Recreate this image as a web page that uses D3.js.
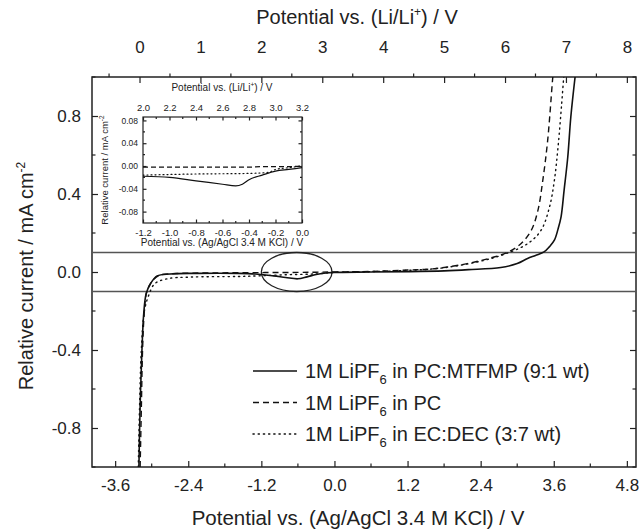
<!DOCTYPE html>
<html>
<head>
<meta charset="utf-8">
<script src="https://cdn.jsdelivr.net/npm/d3@7"></script>
<style>
  body { margin: 0; background: #fff; }
  svg text { font-family: "Liberation Sans", Arial, sans-serif; fill: #222; }
</style>
</head>
<body>
<main></main>
<script>
// main plot data: potential vs Ag/AgCl (V), relative current (mA cm-2)
const solidPts = [[-3.21,-1.0],[-3.19,-0.69],[-3.16,-0.40],[-3.13,-0.21],[-3.09,-0.11],[-3.02,-0.06],[-2.91,-0.02],[-2.70,-0.01],[-2.26,-0.007],[-1.6,-0.007],[-1.3,-0.01],[-1.0,-0.02],[-0.8,-0.028],[-0.6,-0.035],[-0.45,-0.025],[-0.3,-0.013],[-0.1,-0.004],[0.0,-0.002],[0.6,0.0],[1.2,0.002],[1.8,0.006],[2.2,0.012],[2.73,0.023],[3.0,0.043],[3.17,0.069],[3.3,0.085],[3.44,0.103],[3.53,0.13],[3.61,0.163],[3.67,0.22],[3.72,0.283],[3.77,0.42],[3.83,0.59],[3.88,0.795],[3.95,1.0]]
const dashedPts = [[-3.19,-1.0],[-3.17,-0.7],[-3.15,-0.4],[-3.12,-0.2],[-3.08,-0.1],[-3.0,-0.05],[-2.88,-0.018],[-2.6,-0.008],[-2.0,-0.005],[-1.2,-0.003],[-0.6,-0.002],[-0.3,-0.001],[0.0,0.0],[0.6,0.003],[1.2,0.01],[1.64,0.017],[2.18,0.043],[2.62,0.077],[2.84,0.10],[3.06,0.145],[3.23,0.213],[3.34,0.316],[3.42,0.47],[3.5,0.675],[3.58,0.985],[3.585,1.0]]
const dottedPts = [[-3.22,-1.0],[-3.2,-0.7],[-3.17,-0.4],[-3.12,-0.2],[-3.05,-0.12],[-2.95,-0.06],[-2.75,-0.035],[-2.37,-0.026],[-1.6,-0.023],[-1.27,-0.02],[-0.8,-0.014],[-0.4,-0.011],[-0.25,-0.009],[-0.1,-0.004],[0.0,-0.002],[0.6,0.002],[1.2,0.008],[1.8,0.022],[2.46,0.06],[2.84,0.097],[3.17,0.145],[3.39,0.213],[3.53,0.333],[3.61,0.47],[3.67,0.64],[3.73,0.863],[3.76,0.985],[3.765,1.0]]

// inset data (zoom of -1.2 .. 0 V)
const insetSolid = [[-1.2,-0.018],[-1.0,-0.02],[-0.8,-0.026],[-0.6,-0.032],[-0.5,-0.035],[-0.45,-0.032],[-0.4,-0.024],[-0.3,-0.016],[-0.2,-0.009],[-0.1,-0.006],[0.0,-0.003]]
const insetDashed = [[-1.2,-0.002],[-0.8,-0.002],[-0.4,-0.002],[-0.3,-0.001],[-0.1,-0.001],[0.0,0.0]]
const insetDotted = [[-1.2,-0.016],[-0.8,-0.014],[-0.4,-0.013],[-0.25,-0.011],[-0.2,-0.006],[-0.1,-0.003],[0.0,0.0]]

const xTicks = [-3.6,-2.4,-1.2,0.0,1.2,2.4,3.6,4.8]
const liTicks = [0,1,2,3,4,5,6,7,8]
const yTicks = [-0.8,-0.4,0.0,0.4,0.8]
const insetXTicks = [-1.2,-1.0,-0.8,-0.6,-0.4,-0.2,0.0]
const insetLiTicks = [2.0,2.2,2.4,2.6,2.8,3.0,3.2]
const insetYTicks = [-0.08,-0.04,0.0,0.04,0.08]
const refLines = [0.1,-0.1]
const legendNames = ['in PC:MTFMP (9:1 wt)','in PC','in EC:DEC (3:7 wt)']
const liOffset = 3.2 // Li/Li+ = Ag/AgCl + 3.2

const size = {width: 640, height: 530}
const box = {left: 92, right: 636, top: 77, bottom: 467}
const inBox = {left: 143, right: 302, top: 117, bottom: 223}
const styles = [null, '6,4', '1.2,4']
const tickFont = 17
const titleFont = 20

const svg = d3.select('main').append('svg')
    .attr('width', size.width).attr('height', size.height)

const x = d3.scaleLinear().domain([-3.98, 4.95]).range([box.left, box.right])
const xLi = d3.scaleLinear().domain([-3.98 + liOffset, 4.95 + liOffset]).range([box.left, box.right])
const y = d3.scaleLinear().domain([-1, 1]).range([box.bottom, box.top])

const ix = d3.scaleLinear().domain([-1.2, 0.0]).range([inBox.left, inBox.right])
const ixLi = d3.scaleLinear().domain([2.0, 3.2]).range([inBox.left, inBox.right])
const iy = d3.scaleLinear().domain([-0.1, 0.086]).range([inBox.bottom, inBox.top])

const ticks = (g, axis, scale, major, minor, len, minorLen) => {
    const a = axis(scale).tickValues(major).tickSizeInner(len).tickSizeOuter(0)
    g.call(a)
    g.select('.domain').remove()
    g.selectAll('.tick line').attr('stroke', '#222').attr('stroke-width', 1.2)
    minor.forEach(v => {
        const p = scale(v)
        const horizontal = axis === d3.axisTop || axis === d3.axisBottom
        g.append('line')
            .attr('x1', horizontal ? p : 0).attr('x2', horizontal ? p : 0)
            .attr('y1', horizontal ? 0 : p).attr('y2', horizontal ? 0 : p)
            .attr(horizontal ? 'y2' : 'x2', minorLen)
            .attr('stroke', '#222').attr('stroke-width', 1.2)
    })
}

// ---- main axes (ticks point inward) ----
const clip = svg.append('clipPath').attr('id', 'mainClip')
clip.append('rect').attr('x', box.left).attr('y', box.top)
    .attr('width', box.right - box.left).attr('height', box.bottom - box.top)

const xMinor = d3.range(-3.6, 5.0, 0.6).map(v => +v.toFixed(1)).filter(v => !xTicks.includes(v))
const liMinor = d3.range(-0.5, 8.2, 1)
const yMinor = [-1.0, -0.6, -0.2, 0.2, 0.6, 1.0]

const bottomG = svg.append('g').attr('transform', `translate(0,${box.bottom})`)
ticks(bottomG, d3.axisBottom, x, xTicks, xMinor, -6, -3.5)
bottomG.selectAll('.tick text').attr('y', 11.5).attr('font-size', tickFont)
    .text(d => d3.format('.1f')(d).replace('−', '-'))

const topG = svg.append('g').attr('transform', `translate(0,${box.top})`)
ticks(topG, d3.axisTop, xLi, liTicks, liMinor, -6, -3.5)
topG.selectAll('.tick text').attr('y', -24).attr('font-size', tickFont)

const leftG = svg.append('g').attr('transform', `translate(${box.left},0)`)
ticks(leftG, d3.axisLeft, y, yTicks, yMinor, -6, 3.5)
leftG.selectAll('.tick line').attr('x2', 6)
leftG.selectAll('.tick text').attr('x', -11).attr('font-size', tickFont)
    .text(d => d3.format('.1f')(d).replace('−', '-'))

const rightG = svg.append('g').attr('transform', `translate(${box.right},0)`)
ticks(rightG, d3.axisRight, y, yTicks, yMinor, -6, -3.5)
rightG.selectAll('.tick text').remove()

svg.append('rect').attr('x', box.left).attr('y', box.top)
    .attr('width', box.right - box.left).attr('height', box.bottom - box.top)
    .attr('fill', 'none').attr('stroke', '#222').attr('stroke-width', 1.5)

// axis titles
svg.append('text').attr('x', 357).attr('y', 24).attr('text-anchor', 'middle').attr('font-size', titleFont)
    .call(t => {
        t.append('tspan').text('Potential vs. (Li/Li')
        t.append('tspan').attr('dy', -8).attr('font-size', 12).text('+')
        t.append('tspan').attr('dy', 8).text(') / V')
    })
svg.append('text').attr('x', 358).attr('y', 525).attr('text-anchor', 'middle').attr('font-size', 20.5)
    .text('Potential vs. (Ag/AgCl 3.4 M KCl) / V')
svg.append('text').attr('transform', 'translate(33,276) rotate(-90)').attr('text-anchor', 'middle').attr('font-size', titleFont)
    .call(t => {
        t.append('tspan').text('Relative current / mA cm')
        t.append('tspan').attr('dy', -8).attr('font-size', 12).text('-2')
    })

// reference lines at +-0.1 and the highlight ellipse
svg.selectAll('.ref').data(refLines).enter().append('line')
    .attr('x1', box.left).attr('x2', box.right)
    .attr('y1', d => y(d)).attr('y2', d => y(d))
    .attr('stroke', '#555').attr('stroke-width', 1.5)

svg.append('ellipse')
    .attr('cx', x(-0.62)).attr('cy', y(0))
    .attr('rx', x(-0.04) - x(-0.62)).attr('ry', y(0) - y(0.1))
    .attr('fill', 'none').attr('stroke', '#222').attr('stroke-width', 1.3)

// curves
const lineSmooth = d3.line().x(d => x(d[0])).y(d => y(d[1])).curve(d3.curveCatmullRom)
const mainSeries = [solidPts, dashedPts, dottedPts]
svg.append('g').attr('clip-path', 'url(#mainClip)')
    .selectAll('path').data(mainSeries).enter().append('path')
    .attr('d', d => lineSmooth(d))
    .attr('fill', 'none').attr('stroke', '#111')
    .attr('stroke-width', (d, i) => i === 0 ? 1.6 : 1.4)
    .attr('stroke-dasharray', (d, i) => styles[i])
    .attr('stroke-linecap', (d, i) => i === 2 ? 'round' : 'butt')

// legend
const legend = svg.append('g')
legendNames.forEach((name, i) => {
    const ly = 371 + i * 31.5
    legend.append('line').attr('x1', 253).attr('x2', 297).attr('y1', ly).attr('y2', ly)
        .attr('stroke', '#111').attr('stroke-width', 1.5)
        .attr('stroke-dasharray', styles[i])
        .attr('stroke-linecap', i === 2 ? 'round' : 'butt')
    legend.append('text').attr('x', 305).attr('y', ly + 7).attr('font-size', titleFont)
        .call(t => {
            t.append('tspan').text('1M LiPF')
            t.append('tspan').attr('dy', 6).attr('font-size', 13).text('6')
            t.append('tspan').attr('dy', -6).text(' ' + name)
        })
})

// ---- inset ----
const inset = svg.append('g')
inset.append('clipPath').attr('id', 'inClip').append('rect')
    .attr('x', inBox.left).attr('y', inBox.top)
    .attr('width', inBox.right - inBox.left).attr('height', inBox.bottom - inBox.top)

const inXMinor = d3.range(-1.1, 0, 0.2).map(v => +v.toFixed(1))
const inLiMinor = d3.range(2.1, 3.2, 0.2).map(v => +v.toFixed(1))
const inYMinor = [-0.06, -0.02, 0.02, 0.06]

const ib = inset.append('g').attr('transform', `translate(0,${inBox.bottom})`)
ticks(ib, d3.axisBottom, ix, insetXTicks, inXMinor, -3.5, -2)
ib.selectAll('.tick text').attr('y', 6).attr('font-size', 9.5).text(d => d3.format('.1f')(d).replace('−', '-'))

const it = inset.append('g').attr('transform', `translate(0,${inBox.top})`)
ticks(it, d3.axisTop, ixLi, insetLiTicks, inLiMinor, -3.5, 2)
it.selectAll('.tick text').attr('y', -6).attr('font-size', 9.5).text(d => d3.format('.1f')(d))

const il = inset.append('g').attr('transform', `translate(${inBox.left},0)`)
ticks(il, d3.axisLeft, iy, insetYTicks, inYMinor, -3.5, 2)
il.selectAll('.tick text').attr('x', -5).attr('font-size', 8.5).text(d => d3.format('.2f')(d).replace('−', '-'))

const ir = inset.append('g').attr('transform', `translate(${inBox.right},0)`)
ticks(ir, d3.axisRight, iy, insetYTicks, inYMinor, -3.5, -2)
ir.selectAll('.tick text').remove()

inset.append('rect').attr('x', inBox.left).attr('y', inBox.top)
    .attr('width', inBox.right - inBox.left).attr('height', inBox.bottom - inBox.top)
    .attr('fill', 'none').attr('stroke', '#222').attr('stroke-width', 1.2)

inset.append('text').attr('x', 222).attr('y', 91).attr('text-anchor', 'middle').attr('font-size', 10)
    .call(t => {
        t.append('tspan').text('Potential vs. (Li/Li')
        t.append('tspan').attr('dy', -4).attr('font-size', 6.5).text('+')
        t.append('tspan').attr('dy', 4).text(') / V')
    })
inset.append('text').attr('x', 222).attr('y', 246).attr('text-anchor', 'middle').attr('font-size', 10)
    .text('Potential vs. (Ag/AgCl 3.4 M KCl) / V')
inset.append('text').attr('transform', 'translate(108,170) rotate(-90)').attr('text-anchor', 'middle').attr('font-size', 9.5)
    .call(t => {
        t.append('tspan').text('Relative current / mA cm')
        t.append('tspan').attr('dy', -4).attr('font-size', 6.5).text('-2')
    })

const iline = d3.line().x(d => ix(d[0])).y(d => iy(d[1])).curve(d3.curveMonotoneX)
inset.append('g').attr('clip-path', 'url(#inClip)')
    .selectAll('path').data([insetSolid, insetDashed, insetDotted]).enter().append('path')
    .attr('d', d => iline(d))
    .attr('fill', 'none').attr('stroke', '#111').attr('stroke-width', 1.2)
    .attr('stroke-dasharray', (d, i) => i === 1 ? '5,3' : i === 2 ? '1,3' : null)
    .attr('stroke-linecap', (d, i) => i === 2 ? 'round' : 'butt')
</script>
</body>
</html>
